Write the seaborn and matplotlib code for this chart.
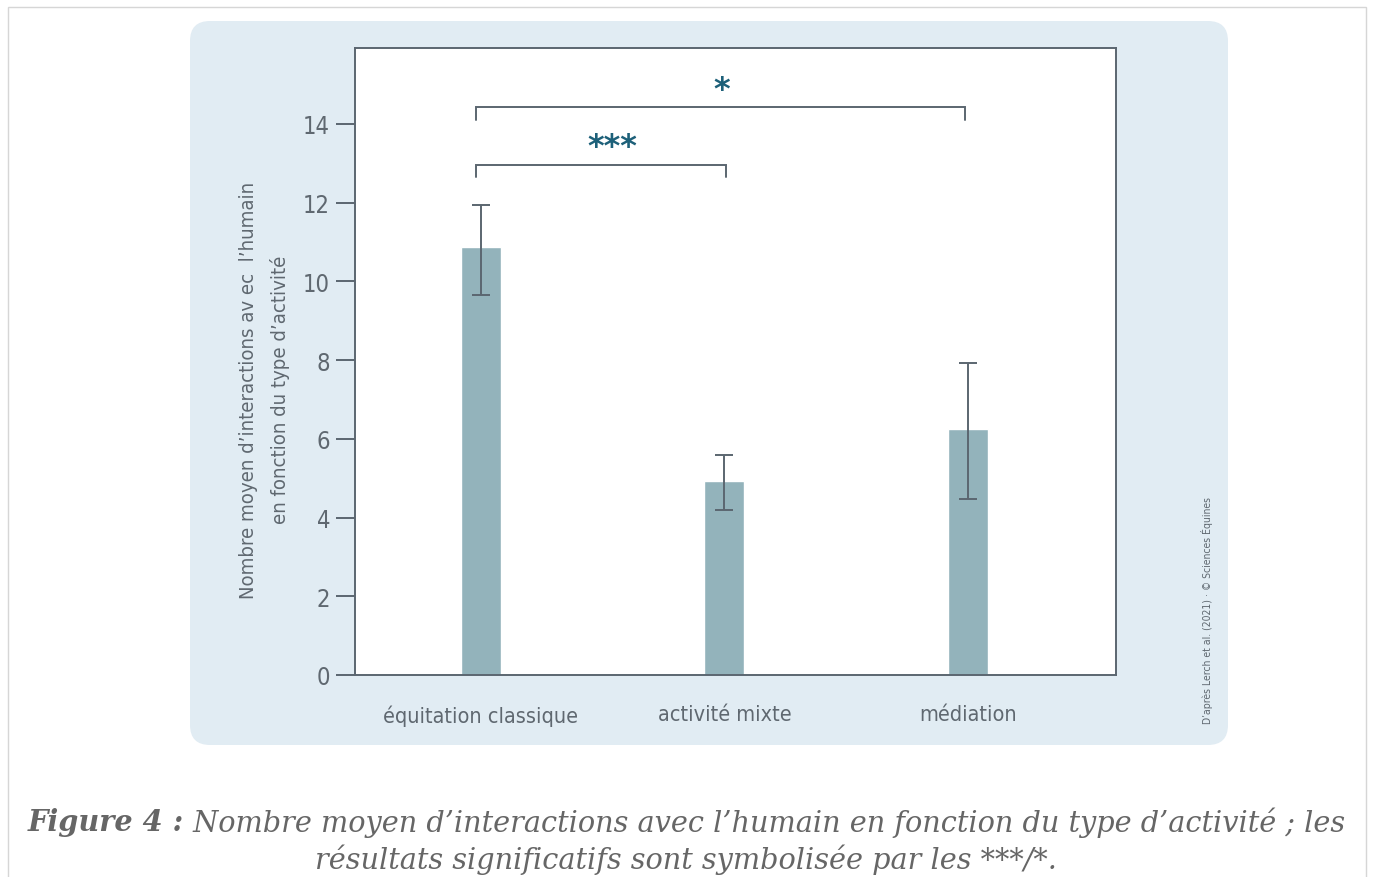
import matplotlib
matplotlib.use("Agg")
import numpy as np
import pandas as pd
from matplotlib import pyplot as plt
from matplotlib.patches import FancyBboxPatch, Rectangle
from matplotlib.transforms import IdentityTransform
import seaborn as sns

# data
categories = ["équitation classique", "activité mixte", "médiation"]
means = [10.87, 4.93, 6.25]
err_low = [9.65, 4.19, 4.47]
err_high = [11.94, 5.59, 7.93]
# (left bar, right end, height, stars, star x, star y)
brackets = [(-0.02, 1.006, 12.96, "***", 0.538, 13.03),
            (-0.02, 1.988, 14.43, "*", 0.99, 14.48)]
yticks = [0, 2, 4, 6, 8, 10, 12, 14]

bar_col = "#93b3bb"
panel_col = "#e1ecf3"
line_col = "#5b6670"
text_col = "#5f6870"
star_col = "#1d6079"

sns.set_style("white")
plt.rcParams["font.family"] = ["DejaVu Sans"]
plt.rcParams["font.stretch"] = "condensed"

fig = plt.figure(figsize=(13.73, 8.78), dpi=100)
fig.patch.set_facecolor("white")

# outer thin frame and rounded blue panel (pixel coords, origin bottom-left)
fig.patches.append(Rectangle((8, -10), 1358, 878 - 8 + 10, transform=IdentityTransform(),
                             facecolor="none", edgecolor="#d6d6d6", linewidth=1, zorder=-2))
fig.patches.append(FancyBboxPatch((190, 878 - 746), 1038, 724,
                                  boxstyle="round,pad=0,rounding_size=20",
                                  transform=IdentityTransform(),
                                  facecolor=panel_col, edgecolor="none", zorder=-1))

ax = fig.add_axes([355 / 1373, (878 - 676) / 878, 761 / 1373, 627 / 878])
df = pd.DataFrame({"activite": categories, "moyenne": means})
sns.barplot(data=df, x="activite", y="moyenne", color=bar_col, width=0.164,
            saturation=1, ax=ax, zorder=2)

pos = np.arange(len(categories))
m = np.array(means)
yerr = np.vstack([m - np.array(err_low), np.array(err_high) - m])
ax.errorbar(pos, m, yerr=yerr, fmt="none", ecolor=line_col, elinewidth=1.4,
            capsize=6.5, capthick=1.4, zorder=3)

for xa, xb, h, lab, sx, sy in brackets:
    ax.plot([xa, xa, xb, xb], [h - 0.32, h, h, h - 0.32], color=line_col, lw=1.4,
            solid_joinstyle="miter", zorder=3)
    ax.text(sx, sy, lab, ha="center", va="bottom", color=star_col,
            fontsize=23, fontweight="bold", fontstretch="normal")

ax.set_xlim(-0.517, 2.608)
ax.set_ylim(0, 15.93)
ax.set_yticks(yticks)
ax.set_facecolor("white")
for s in ax.spines.values():
    s.set_visible(True)
    s.set_color(line_col)
    s.set_linewidth(1.4)
ax.tick_params(axis="y", length=14, width=1.4, color=line_col, labelcolor=text_col,
               labelsize=17, pad=4, left=True)
ax.tick_params(axis="x", length=0, labelcolor=text_col, labelsize=15.5, pad=21)
ax.set_xlabel("")
ax.set_ylabel("Nombre moyen d\u2019interactions av ec  l\u2019humain\nen fonction du type d\u2019activité",
              color=text_col, fontsize=14.6, linespacing=1.75)
ax.yaxis.set_label_coords(-0.085, 0.456)

fig.text(1207 / 1373, (878 - 610) / 878,
         "D\u2019après Lerch et al. (2021) · © Sciences Équines",
         rotation=90, ha="center", va="center", color=text_col, fontsize=7.5)

# caption, first line has a bold lead
cap_font = ["DejaVu Serif"]
r = fig.canvas.get_renderer()
t1 = fig.text(0, (878 - 823) / 878, "Figure 4 :", fontsize=20.7, style="italic",
              fontweight="bold", family=cap_font, color="#666666", va="center",
              fontstretch="normal")
t2 = fig.text(0, (878 - 823) / 878, " Nombre moyen d\u2019interactions avec l\u2019humain en fonction du type d\u2019activité ; les",
              fontsize=20.7, style="italic", family=cap_font, color="#666666", va="center",
              fontstretch="normal")
w1 = t1.get_window_extent(r).width
w2 = t2.get_window_extent(r).width
x0 = (686 - (w1 + w2) / 2)
t1.set_x(x0 / 1373)
t2.set_x((x0 + w1) / 1373)
fig.text(686 / 1373, (878 - 860) / 878, "résultats significatifs sont symbolisée par les ***/*.",
         fontsize=20.7, style="italic", family=cap_font, color="#666666", ha="center", va="center",
         fontstretch="normal")

fig.savefig("out.png", dpi=100)
